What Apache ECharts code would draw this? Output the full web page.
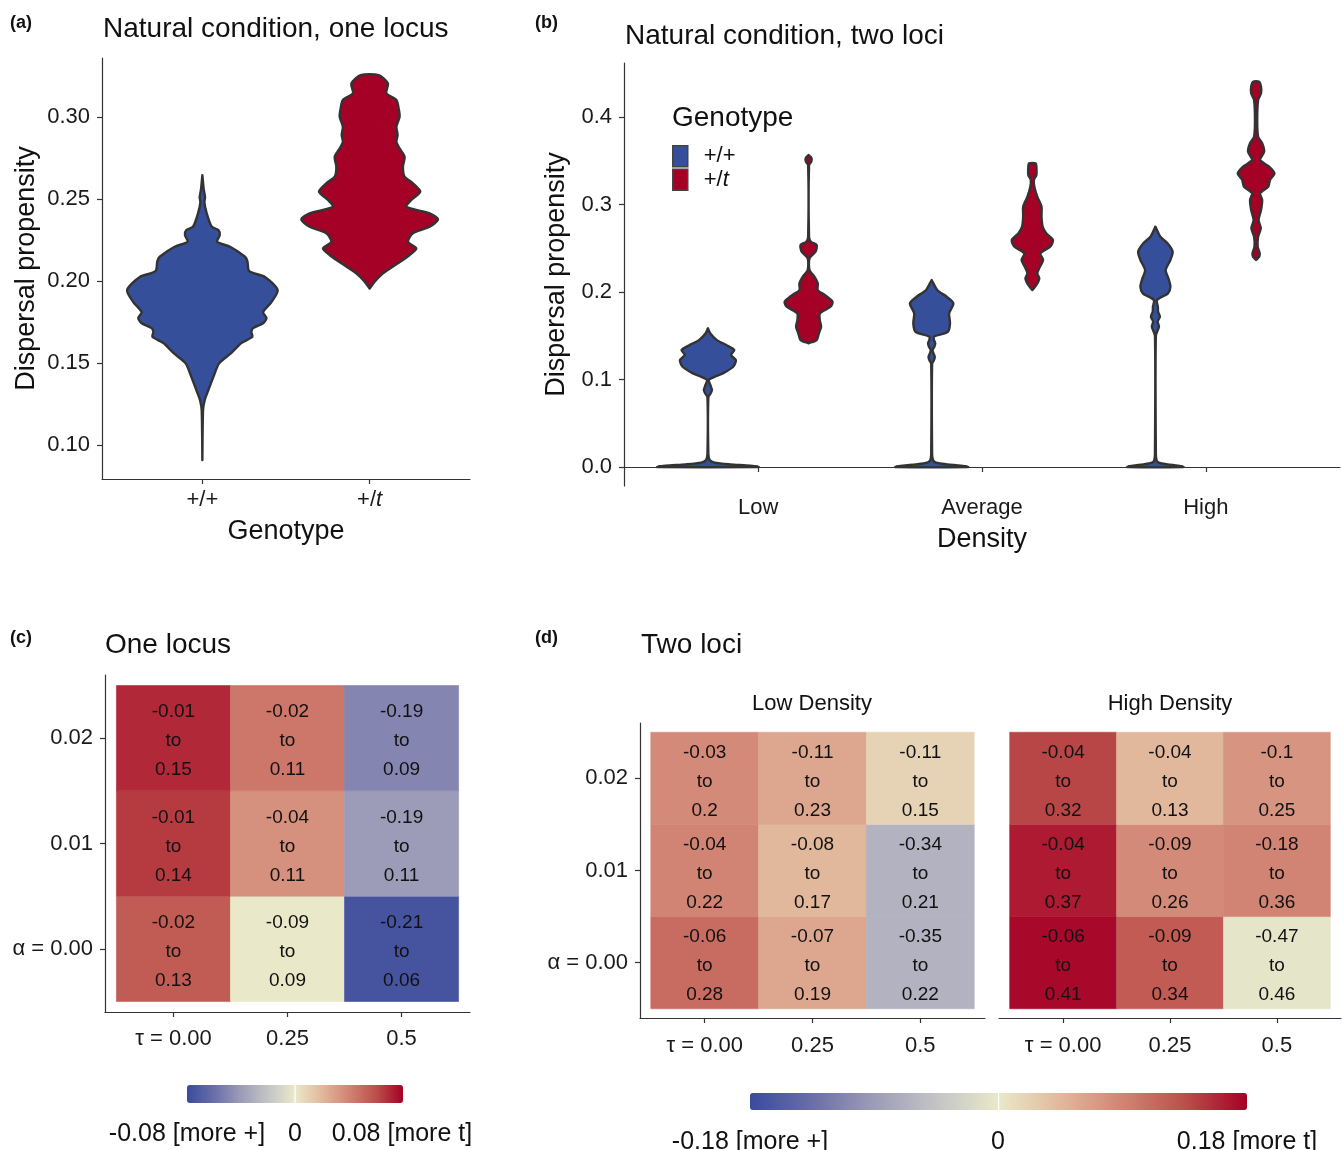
<!DOCTYPE html>
<html>
<head>
<meta charset="utf-8">
<title>Dispersal propensity</title>
<script src="https://cdn.jsdelivr.net/npm/echarts@6/dist/echarts.min.js"></script>
<style>
  html, body { margin: 0; padding: 0; background: #fff; }
  #main { width: 1343px; height: 1150px; }
</style>
</head>
<body>
<div id="main"></div>
<script>
// ---- data ----
var genotypes = ['+/+', '+/t'];
var densities = ['Low', 'Average', 'High'];
var tauLabels = ['τ = 0.00', '0.25', '0.5'];
var alphaLabels = ['α = 0.00', '0.01', '0.02'];
var oneLocusTicks = [0.10, 0.15, 0.20, 0.25, 0.30];
var twoLociTicks = [0.0, 0.1, 0.2, 0.3, 0.4];

// violin outlines: [dispersal propensity, half width]
var oneLocusWT = [[0.0909, 0], [0.1213, 0.004], [0.1274, 0.014], [0.1335, 0.036], [0.1416, 0.066],
  [0.1498, 0.1], [0.1559, 0.17], [0.1622, 0.233], [0.1660, 0.299], [0.1689, 0.293], [0.1713, 0.303],
  [0.1744, 0.365], [0.1774, 0.383], [0.1811, 0.363], [0.1872, 0.413], [0.1945, 0.45], [0.2026, 0.372],
  [0.2060, 0.28], [0.2122, 0.269], [0.2148, 0.255], [0.2209, 0.166], [0.2240, 0.088], [0.2280, 0.104],
  [0.2311, 0.096], [0.2331, 0.056], [0.2413, 0.026], [0.2480, 0.012], [0.2510, 0.016], [0.2560, 0.008],
  [0.2646, 0]];
var oneLocusT = [[0.1955, 0], [0.1996, 0.030], [0.2047, 0.080], [0.2108, 0.169], [0.2159, 0.239],
  [0.2199, 0.279], [0.2240, 0.229], [0.2291, 0.259], [0.2331, 0.359], [0.2376, 0.408], [0.2413, 0.359],
  [0.2453, 0.219], [0.2494, 0.249], [0.2545, 0.303], [0.2596, 0.259], [0.2636, 0.209], [0.2697, 0.199],
  [0.2758, 0.209], [0.2809, 0.179], [0.2849, 0.160], [0.2890, 0.167], [0.2941, 0.160], [0.3002, 0.179],
  [0.3043, 0.175], [0.3104, 0.160], [0.3145, 0.100], [0.3205, 0.109], [0.3256, 0.054]];

var lowWT = [[0, 0.226], [0.0015, 0.19], [0.003, 0.1], [0.005, 0.03], [0.008, 0.008], [0.015, 0.002],
  [0.080, 0.002], [0.084, 0.012], [0.088, 0.018], [0.093, 0.012], [0.0994, 0.004], [0.103, 0.03],
  [0.107, 0.067], [0.1146, 0.113], [0.1223, 0.125], [0.128, 0.103], [0.1337, 0.118], [0.1394, 0.082],
  [0.145, 0.04], [0.1528, 0.01], [0.1585, 0]];
var lowT = [[0.1414, 0], [0.1451, 0.036], [0.1528, 0.046], [0.1604, 0.056], [0.168, 0.05], [0.1756, 0.051],
  [0.1832, 0.098], [0.1889, 0.107], [0.1966, 0.072], [0.2023, 0.041], [0.21, 0.041], [0.2175, 0.026],
  [0.2251, 0.004], [0.2385, 0.004], [0.246, 0.031], [0.2537, 0.036], [0.2575, 0.01], [0.2632, 0.002],
  [0.345, 0.002], [0.349, 0.012], [0.353, 0.013], [0.3566, 0]];
var avgWT = [[0, 0.162], [0.0015, 0.13], [0.003, 0.07], [0.005, 0.02], [0.008, 0.006], [0.015, 0.002],
  [0.118, 0.002], [0.122, 0.01], [0.126, 0.014], [0.130, 0.008], [0.1337, 0.004], [0.1375, 0.012],
  [0.1413, 0.016], [0.1455, 0.01], [0.1489, 0.01], [0.1546, 0.072], [0.1642, 0.082], [0.1756, 0.078],
  [0.187, 0.097], [0.1946, 0.067], [0.2023, 0.025], [0.2137, 0]];
var avgT = [[0.2023, 0], [0.208, 0.018], [0.2156, 0.031], [0.2213, 0.022], [0.2289, 0.034], [0.2366, 0.048],
  [0.2442, 0.036], [0.2518, 0.08], [0.2594, 0.092], [0.2671, 0.062], [0.2747, 0.046], [0.286, 0.041],
  [0.2975, 0.041], [0.3089, 0.022], [0.3203, 0.009], [0.328, 0.007], [0.3337, 0.018], [0.3432, 0.018],
  [0.347, 0.015]];
var highWT = [[0, 0.125], [0.0015, 0.1], [0.003, 0.055], [0.005, 0.015], [0.008, 0.005], [0.015, 0.002],
  [0.15, 0.002], [0.1604, 0.016], [0.166, 0.01], [0.1718, 0.02], [0.1775, 0.012], [0.1832, 0.011],
  [0.1909, 0.007], [0.1985, 0.056], [0.2061, 0.067], [0.2156, 0.058], [0.2251, 0.046], [0.2366, 0.067],
  [0.246, 0.077], [0.2556, 0.054], [0.2632, 0.022], [0.2747, 0]];
var highT = [[0.2366, 0], [0.2405, 0.014], [0.2442, 0.016], [0.2518, 0.007], [0.2632, 0.009], [0.2728, 0.021],
  [0.2823, 0.011], [0.2937, 0.022], [0.3051, 0.027], [0.3128, 0.018], [0.3203, 0.054], [0.328, 0.062],
  [0.3356, 0.082], [0.3432, 0.058], [0.3509, 0.018], [0.3604, 0.036], [0.37, 0.027], [0.3775, 0.009],
  [0.3966, 0.005], [0.4194, 0.009], [0.427, 0.022], [0.4346, 0.022], [0.4403, 0.013]];

// heatmap ranges, rows = alpha 0.00 / 0.01 / 0.02, columns = tau 0.00 / 0.25 / 0.5
var oneLocusLo = [[-0.02, -0.09, -0.21], [-0.01, -0.04, -0.19], [-0.01, -0.02, -0.19]];
var oneLocusHi = [[0.13, 0.09, 0.06], [0.14, 0.11, 0.11], [0.15, 0.11, 0.09]];
var lowDensLo = [[-0.06, -0.07, -0.35], [-0.04, -0.08, -0.34], [-0.03, -0.11, -0.11]];
var lowDensHi = [[0.28, 0.19, 0.22], [0.22, 0.17, 0.21], [0.2, 0.23, 0.15]];
var highDensLo = [[-0.06, -0.09, -0.47], [-0.04, -0.09, -0.18], [-0.04, -0.04, -0.1]];
var highDensHi = [[0.41, 0.34, 0.46], [0.37, 0.26, 0.36], [0.32, 0.13, 0.25]];
var oneLocusLimit = 0.08;
var twoLociLimit = 0.18;

// ---- chart ----
var blue = '#354f9b';
var red = '#a50026';
var divergingColors = ['#3a4b9d', '#6a6ea7', '#9d9cb8', '#c4c4c6', '#e9e9c9',
  '#e2b89c', '#d18473', '#bc4f4a', '#a50026'];
var font = 'Liberation Sans, Arial, sans-serif';
var lineCol = '#333';
var dodge = 0.225;

function violin(profiles) {
  return function (params, api) {
    var x = api.value(0);
    var prof = profiles[api.value(1)];
    var pts = [];
    for (var i = 0; i < prof.length; i++) pts.push(api.coord([x + prof[i][1], prof[i][0]]));
    for (var j = prof.length - 1; j >= 0; j--) pts.push(api.coord([x - prof[j][1], prof[j][0]]));
    return {
      type: 'polygon',
      shape: { points: pts, smooth: 0.25 },
      style: { fill: api.visual('color'), stroke: lineCol, lineWidth: 2.4, lineJoin: 'round' }
    };
  };
}

function cells(lo, hi) {
  var out = [];
  for (var r = 0; r < 3; r++) {
    for (var c = 0; c < 3; c++) {
      out.push([c + 1, r + 1, lo[r][c], hi[r][c], (lo[r][c] + hi[r][c]) / 2]);
    }
  }
  return out;
}

function cellItem(params, api) {
  var p = api.coord([api.value(0), api.value(1)]);
  var s = api.size([1, 1]);
  var col = api.visual('color');
  return {
    type: 'rect',
    shape: { x: p[0] - s[0] / 2, y: p[1] - s[1] / 2, width: s[0], height: s[1] },
    style: { fill: col, stroke: col, lineWidth: 0.6 },
    textContent: {
      style: {
        text: api.value(2) + '\nto\n' + api.value(3),
        fontSize: 19, lineHeight: 29, fill: '#111', align: 'center', fontFamily: font
      }
    },
    textConfig: { position: 'inside', offset: [0, 3] }
  };
}

function axisBase(grid, min, max, ticks, fmt, margin) {
  return {
    type: 'value', gridIndex: grid, min: min, max: max,
    axisLine: { show: true, lineStyle: { color: lineCol, width: 1.2 } },
    axisTick: { show: true, length: 5, customValues: ticks, lineStyle: { color: lineCol, width: 1.2 } },
    axisLabel: { customValues: ticks, formatter: fmt, fontSize: 22, color: '#1a1a1a', margin: margin,
      rich: { i: { fontStyle: 'italic', fontSize: 22, color: '#1a1a1a' } } },
    splitLine: { show: false },
    nameTextStyle: { fontSize: 27, color: '#111' }
  };
}

var xA = axisBase(0, 0.4, 2.6, [1, 2], function (v) {
  return genotypes[Math.round(v) - 1].replace('t', '{i|t}');
}, 10);
xA.name = 'Genotype'; xA.nameLocation = 'middle'; xA.nameGap = 39;
var yA = axisBase(0, 0.0793, 0.336, oneLocusTicks, function (v) { return v.toFixed(2); }, 12);
yA.name = 'Dispersal propensity'; yA.nameLocation = 'middle'; yA.nameGap = 62;

var xB = axisBase(1, 0.4, 3.6, [1, 2, 3], function (v) { return densities[Math.round(v) - 1]; }, 11);
xB.name = 'Density'; xB.nameLocation = 'middle'; xB.nameGap = 40;
var yB = axisBase(1, -0.0217, 0.4617, twoLociTicks, function (v) { return v.toFixed(1); }, 12);
yB.name = 'Dispersal propensity'; yB.nameLocation = 'middle'; yB.nameGap = 50;

function tauFmt(v) { return tauLabels[Math.round(v) - 1]; }
function alphaFmt(v) { return alphaLabels[Math.round(v) - 1]; }
var xC = axisBase(2, 0.4, 3.6, [1, 2, 3], tauFmt, 16);
var yC = axisBase(2, 0.4, 3.6, [1, 2, 3], alphaFmt, 12);
var xD1 = axisBase(3, 0.4, 3.6, [1, 2, 3], tauFmt, 17);
var yD1 = axisBase(3, 0.4, 3.6, [1, 2, 3], alphaFmt, 12);
var xD2 = axisBase(4, 0.4, 3.6, [1, 2, 3], tauFmt, 17);
var yD2 = axisBase(4, 0.4, 3.6, [1, 2, 3], alphaFmt, 12);
yD2.axisLine.show = false; yD2.axisTick.show = false; yD2.axisLabel.show = false;

function txt(s, x, y, size, opts) {
  opts = opts || {};
  return {
    type: 'text', x: x, y: y, silent: true,
    style: {
      text: s, fontSize: size, fontFamily: font, fontWeight: opts.bold ? 'bold' : 'normal',
      fill: '#111', textAlign: opts.align || 'left', textVerticalAlign: 'middle'
    }
  };
}

var myChart = echarts.init(document.getElementById('main'));
var option = {
  animation: false,
  textStyle: { fontFamily: font },
  grid: [
    { left: 102, top: 58, width: 368, height: 421, outerBoundsMode: 'none' },
    { left: 624, top: 63, width: 716, height: 423, outerBoundsMode: 'none' },
    { left: 105, top: 675, width: 365, height: 337, outerBoundsMode: 'none' },
    { left: 640, top: 723, width: 345, height: 295, outerBoundsMode: 'none' },
    { left: 999, top: 723, width: 342, height: 295, outerBoundsMode: 'none' }
  ],
  xAxis: [xA, xB, xC, xD1, xD2],
  yAxis: [yA, yB, yC, yD1, yD2],
  legend: {
    data: genotypes, orient: 'vertical', left: 672, top: 145, padding: 0,
    itemWidth: 15, itemHeight: 21, itemGap: 1, icon: 'rect', selectedMode: false,
    itemStyle: { borderColor: '#444', borderWidth: 1.5 },
    formatter: function (n) { return n.replace('t', '{i|t}'); },
    textStyle: { fontSize: 22, color: '#111', padding: [0, 0, 0, 11],
      rich: { i: { fontStyle: 'italic', fontSize: 22, color: '#111' } } }
  },
  visualMap: [
    { type: 'continuous', seriesIndex: 4, dimension: 4, min: -oneLocusLimit, max: oneLocusLimit,
      orient: 'horizontal', left: 187, top: 1085, itemWidth: 18, itemHeight: 216, padding: 0,
      calculable: false, hoverLink: false, inRange: { color: divergingColors } },
    { type: 'continuous', seriesIndex: [5, 6], dimension: 4, min: -twoLociLimit, max: twoLociLimit,
      orient: 'horizontal', left: 750, top: 1093, itemWidth: 17, itemHeight: 497, padding: 0,
      calculable: false, hoverLink: false, inRange: { color: divergingColors } }
  ],
  series: [
    { name: genotypes[0], type: 'custom', xAxisIndex: 0, yAxisIndex: 0, itemStyle: { color: blue },
      data: [[1, 0]], renderItem: violin([oneLocusWT]) },
    { name: genotypes[1], type: 'custom', xAxisIndex: 0, yAxisIndex: 0, itemStyle: { color: red },
      data: [[2, 0]], renderItem: violin([oneLocusT]) },
    { name: genotypes[0], type: 'custom', xAxisIndex: 1, yAxisIndex: 1, itemStyle: { color: blue },
      data: [[1 - dodge, 0], [2 - dodge, 1], [3 - dodge, 2]], renderItem: violin([lowWT, avgWT, highWT]) },
    { name: genotypes[1], type: 'custom', xAxisIndex: 1, yAxisIndex: 1, itemStyle: { color: red },
      data: [[1 + dodge, 0], [2 + dodge, 1], [3 + dodge, 2]], renderItem: violin([lowT, avgT, highT]) },
    { type: 'custom', xAxisIndex: 2, yAxisIndex: 2, data: cells(oneLocusLo, oneLocusHi), renderItem: cellItem },
    { type: 'custom', xAxisIndex: 3, yAxisIndex: 3, data: cells(lowDensLo, lowDensHi), renderItem: cellItem },
    { type: 'custom', xAxisIndex: 4, yAxisIndex: 4, data: cells(highDensLo, highDensHi), renderItem: cellItem }
  ],
  graphic: [
    txt('(a)', 10, 23, 18, { bold: true }),
    txt('Natural condition, one locus', 103, 29, 28),
    txt('(b)', 535, 23, 18, { bold: true }),
    txt('Natural condition, two loci', 625, 36, 28),
    txt('Genotype', 672, 118, 28),
    txt('(c)', 10, 638, 18, { bold: true }),
    txt('One locus', 105, 645, 28),
    txt('(d)', 535, 638, 18, { bold: true }),
    txt('Two loci', 641, 645, 28),
    txt(densities[0] + ' Density', 812, 704, 22, { align: 'center' }),
    txt(densities[2] + ' Density', 1170, 704, 22, { align: 'center' }),
    txt('-' + oneLocusLimit.toFixed(2) + ' [more +]', 187, 1134, 25, { align: 'center' }),
    txt('0', 295, 1134, 25, { align: 'center' }),
    txt(oneLocusLimit.toFixed(2) + ' [more t]', 402, 1134, 25, { align: 'center' }),
    txt('-' + twoLociLimit.toFixed(2) + ' [more +]', 750, 1142, 25, { align: 'center' }),
    txt('0', 998, 1142, 25, { align: 'center' }),
    txt(twoLociLimit.toFixed(2) + ' [more t]', 1247, 1142, 25, { align: 'center' }),
    { type: 'rect', silent: true, z: 100, shape: { x: 294.5, y: 1085, width: 1.2, height: 18 }, style: { fill: '#fff' } },
    { type: 'rect', silent: true, z: 100, shape: { x: 998, y: 1093, width: 1.2, height: 17 }, style: { fill: '#fff' } }
  ]
};
myChart.setOption(option);
</script>
</body>
</html>
